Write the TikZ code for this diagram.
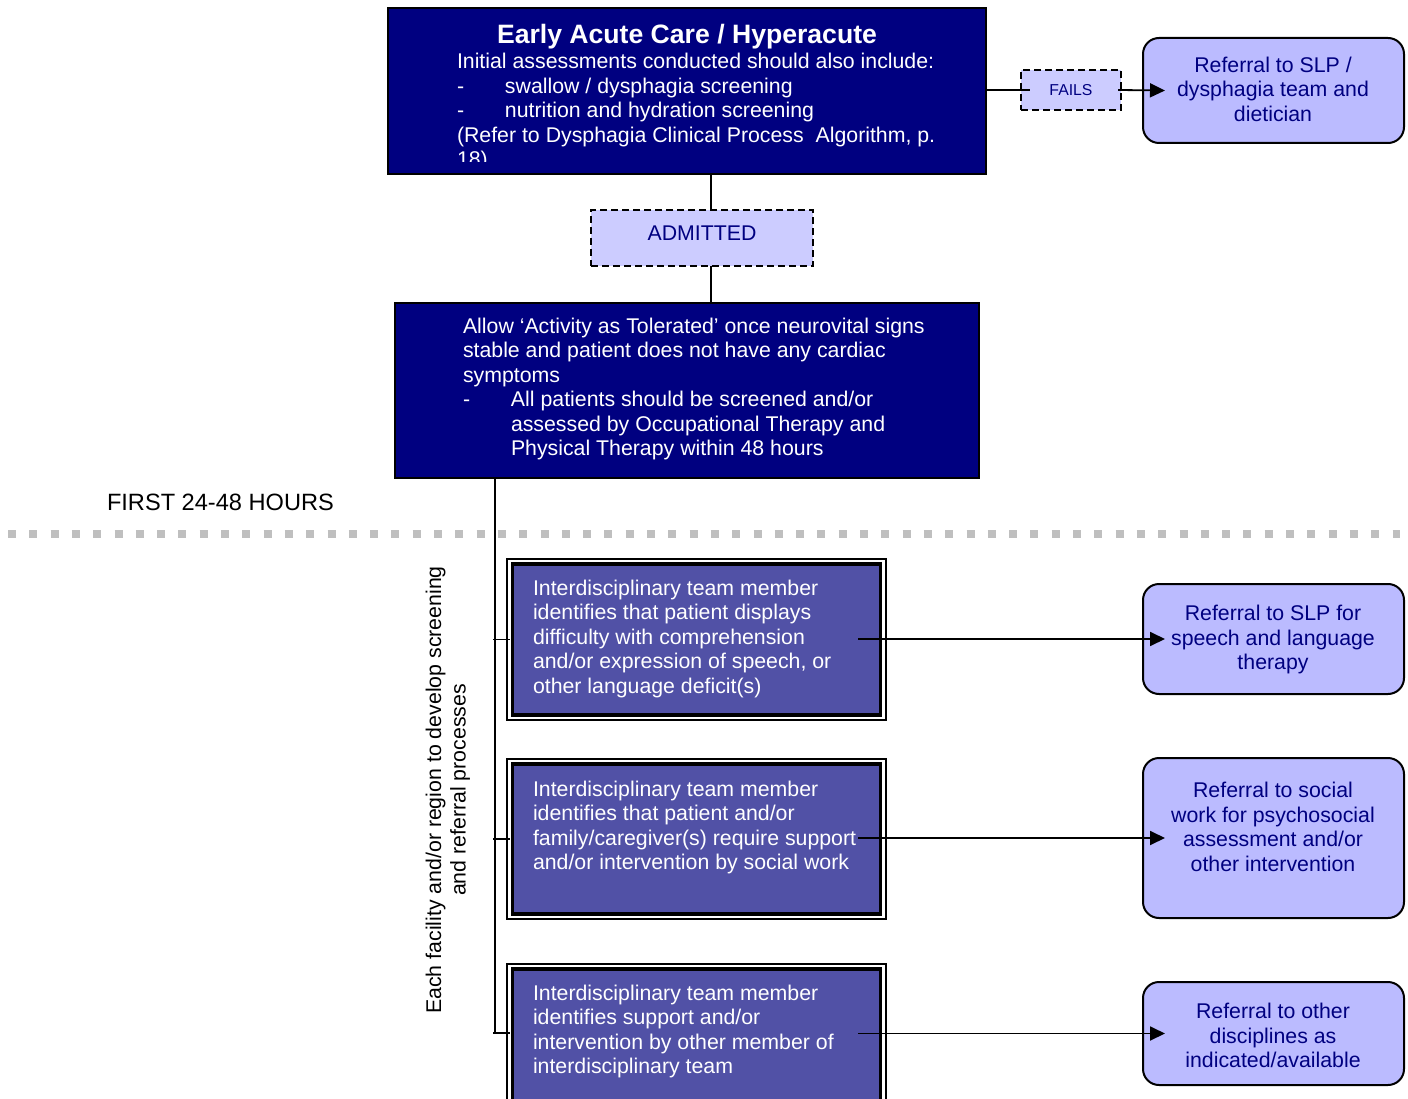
\documentclass[tikz,border=0pt]{standalone}
\usepackage{fontspec}
\setmainfont{Liberation Sans}
\usetikzlibrary{arrows.meta,calc}

\definecolor{navyfill}{RGB}{0,0,128}
\definecolor{midblue}{RGB}{81,81,166}
\definecolor{reffill}{RGB}{187,187,255}
\definecolor{dashfill}{RGB}{204,204,255}
\definecolor{navytext}{RGB}{0,0,128}
\definecolor{dotgray}{RGB}{191,191,191}

\newcommand{\bodyfont}{\fontsize{21.3}{24.5}\selectfont}
\newcommand{\firstline}{\rule{0pt}{22pt}}
\newcommand{\dashitem}{\makebox[48pt][l]{-}}
\newcommand{\itemgap}{\hspace*{48pt}}

\begin{document}
\begin{tikzpicture}[x=1pt,y=-1pt,
  every node/.style={inner sep=0pt, outer sep=0pt},
  navybox/.style={draw=black, line width=2pt, fill=navyfill, anchor=north west},
  dashbox/.style={draw=black, line width=2pt, dash pattern=on 7pt off 4pt, fill=dashfill, anchor=north west},
  refbox/.style={draw=black, line width=2pt, fill=reffill, rounded corners=16pt, anchor=north west},
  outerframe/.style={draw=black, line width=1.8pt, fill=white, anchor=north west},
  innerframe/.style={draw=black, line width=3.2pt, fill=midblue},
  whitetext/.style={text=white, font=\bodyfont, align=left, anchor=north west},
  reftext/.style={text=navytext, font=\bodyfont, align=center, anchor=north},
  conn/.style={draw=black, line width=1.8pt},
  arr/.style={conn, -{Triangle[length=15pt,width=14pt]}}
]
\clip (0,0) rectangle (1408,1099);
\fill[white] (0,0) rectangle (1408,1099);

% separator between the phases
\draw[dotgray, line width=8pt, dash pattern=on 8pt off 13.3pt] (8,534) -- (1400,534);
\node[font=\fontsize{23.6}{27}\selectfont, anchor=base west] (phase) at (107,510) {FIRST 24-48 HOURS};

% upper boxes
\node[navybox, minimum width=598pt, minimum height=166pt] (early) at (388,8) {};
\node[navybox, minimum width=584pt, minimum height=175pt] (act) at (395,303) {};
\node[dashbox, minimum width=100pt, minimum height=40pt] (fails) at (1021,70) {};
\node[dashbox, minimum width=222pt, minimum height=56pt] (admit) at (591,210) {};
\node[refbox, minimum width=261pt, minimum height=105pt] (dysref) at (1143,38) {};

% referral boxes on the right
\node[refbox, minimum width=261pt, minimum height=110pt] (slpref) at (1143,584) {};
\node[refbox, minimum width=261pt, minimum height=160pt] (swref) at (1143,758) {};
\node[refbox, minimum width=261pt, minimum height=103pt] (othref) at (1143,982) {};

% team member boxes with double frames
\node[outerframe, minimum width=379pt, minimum height=161pt] (lang) at (507,559) {};
\node[innerframe, minimum width=368pt, minimum height=151pt] (langin) at (lang.center) {};
\node[outerframe, minimum width=379pt, minimum height=160pt] (social) at (507,759) {};
\node[innerframe, minimum width=368pt, minimum height=150pt] (socialin) at (social.center) {};
\node[outerframe, minimum width=379pt, minimum height=161pt] (other) at (507,964) {};
\node[innerframe, minimum width=368pt, minimum height=151pt] (otherin) at (other.center) {};

% connectors
\coordinate (mid) at (711,0);
\coordinate (trunkend) at (495,1033);
\draw[conn] (early.south -| mid) -- (admit.north -| mid);
\draw[conn] (admit.south -| mid) -- (act.north -| mid);
\draw[conn] (early.east |- fails.west) -- ($(fails.west)+(9,0)$);
\draw[arr] ($(fails.east)+(-3,0)$) -- ($(dysref.west)+(22,0)$);
\draw[conn] (act.south -| trunkend) -- (trunkend);
\draw[conn] ($(trunkend |- lang.west)+(-2,0)$) -- ($(lang.west)+(3,0)$);
\draw[conn] ($(trunkend |- social.west)+(-2,0)$) -- ($(social.west)+(3,0)$);
\draw[conn] ($(trunkend)+(-2,0)$) -- ($(trunkend -| other.west)+(3,0)$);
\draw[arr] ($(slpref.west -| lang.east)+(-28,0)$) -- ($(slpref.west)+(22,0)$);
\draw[arr] ($(swref.west -| social.east)+(-28,0)$) -- ($(swref.west)+(22,0)$);
\draw[arr] ($(othref.west -| other.east)+(-28,0)$) -- ($(othref.west)+(22,0)$);

% texts
\node[text=white, font=\bfseries\fontsize{26.6}{30}\selectfont, anchor=base] (earlytitle) at (687,43.5) {Early Acute Care / Hyperacute};
\begin{scope}
\clip (388,8) rectangle (986,162);
\node[whitetext] (earlybody) at (457,47) {\firstline Initial assessments conducted should also include:\\
\dashitem swallow / dysphagia screening\\
\dashitem nutrition and hydration screening\\
(Refer to Dysphagia Clinical Process\ \ Algorithm, p.\\
18)};
\end{scope}
\node[text=navytext, font=\fontsize{15.8}{18}\selectfont, anchor=base] (failstext) at (1071,96) {FAILS};
\node[text=navytext, font=\bodyfont, anchor=base] (admittext) at (702,240.5) {ADMITTED};
\node[reftext] (dysreftext) at (1273,50.5) {\firstline Referral to SLP /\\dysphagia team and\\dietician};

\node[whitetext] (actbody) at (463,311) {\firstline Allow ‘Activity as Tolerated’ once neurovital signs\\
stable and patient does not have any cardiac\\
symptoms\\
\dashitem All patients should be screened and/or\\
\itemgap assessed by Occupational Therapy and\\
\itemgap Physical Therapy within 48 hours};

\node[whitetext] (langtext) at (533,573) {\firstline Interdisciplinary team member\\
identifies that patient displays\\
difficulty with comprehension\\
and/or expression of\ speech, or\\
other language deficit(s)};
\node[whitetext] (socialtext) at (533,774) {\firstline Interdisciplinary team member\\
identifies that patient and/or\\
family/caregiver(s) require support\\
and/or intervention by social work};
\node[whitetext] (othertext) at (533,978) {\firstline Interdisciplinary team member\\
identifies support and/or\\
intervention by other member of\\
interdisciplinary team};

\node[reftext] (slpreftext) at (1273,598.5) {\firstline Referral to SLP for\\speech and language\\therapy};
\node[reftext] (swreftext) at (1273,775.5) {\firstline Referral to social\\work for psychosocial\\assessment and/or\\other intervention};
\node[reftext] (othreftext) at (1273,996.5) {\firstline Referral to other\\disciplines as\\indicated/available};

\node[rotate=90, anchor=north, align=center, font=\bodyfont] (facilitynote) at (419,790) {\firstline Each facility and/or region to develop screening\\and referral processes};
\end{tikzpicture}
\end{document}
